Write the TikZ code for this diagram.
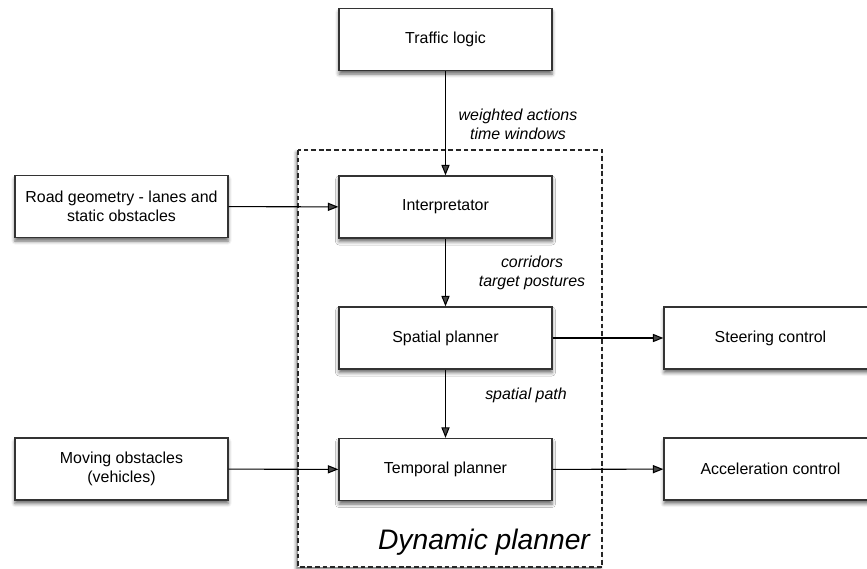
\documentclass[tikz,border=0pt]{standalone}
\usepackage{fontspec}
\setmainfont{Liberation Sans}
\usepackage{tikz}
\usetikzlibrary{arrows.meta}
\usetikzlibrary{shadows.blur}
\tikzset{>={Triangle[width=7pt,length=9pt]}}

\begin{document}
\begin{tikzpicture}[x=0.03cm, y=-0.03cm]
          \tikzstyle{bnode} = [draw=black!80, line width=1.1pt, fill=white, rectangle, minimum width=6.39cm, minimum height=1.86cm, align=center, inner sep=2pt, font=\fontsize{13.6}{16.5}\selectfont, blur shadow={shadow xshift=0pt, shadow yshift=-3pt, shadow blur radius=3pt, shadow opacity=60}]
          \tikzstyle{lbl} = [align=center, font=\fontsize{13.6}{16.5}\selectfont\itshape]
          \tikzstyle{conn} = [->, line width=0.9pt]

          \useasboundingbox (0,0) rectangle (867,569);
          \clip (0,0) rectangle (867,569);

          % dynamic planner frame
          \draw[black!85, line width=1pt, dash pattern=on 4pt off 2.5pt, fill=white, blur shadow={shadow xshift=-1.5pt, shadow yshift=-2pt, shadow blur radius=2.5pt, shadow opacity=55}] (298,150) rectangle (602,567);
          \node[font=\fontsize{24.1}{28}\selectfont\itshape] (dyn) at (484,542) {Dynamic planner};

          \node[bnode] (traf) at (445.5,39.5) {Traffic logic};
          \node[bnode] (intp) at (445.5,207) {Interpretator};
          \node[bnode] (spat) at (445.5,338) {Spatial planner};
          \node[bnode] (temp) at (445.5,469.5) {Temporal planner};

          \node[bnode] (road) at (121.5,206.5) {Road geometry - lanes and\\static obstacles};
          \node[bnode] (movo) at (121.5,469) {Moving obstacles\\(vehicles)};

          \node[bnode] (steer) at (770.5,338) {Steering control};
          \node[bnode] (accl) at (770.5,469) {Acceleration control};

          \draw[conn] (traf) -- (intp);
          \draw[conn] (intp) -- (spat);
          \draw[conn] (spat) -- (temp);
          \draw[conn] (road) -- (intp);
          \draw[conn] (movo) -- (temp);
          \draw[conn] (spat) -- (steer);
          \draw[conn] (temp) -- (accl);

          \node[lbl] (wact) at (518,124) {weighted actions\\time windows};
          \node[lbl] (corr) at (532,273) {corridors\\target postures};
          \node[lbl] (spth) at (526,395) {spatial path};
        \end{tikzpicture}
\end{document}
